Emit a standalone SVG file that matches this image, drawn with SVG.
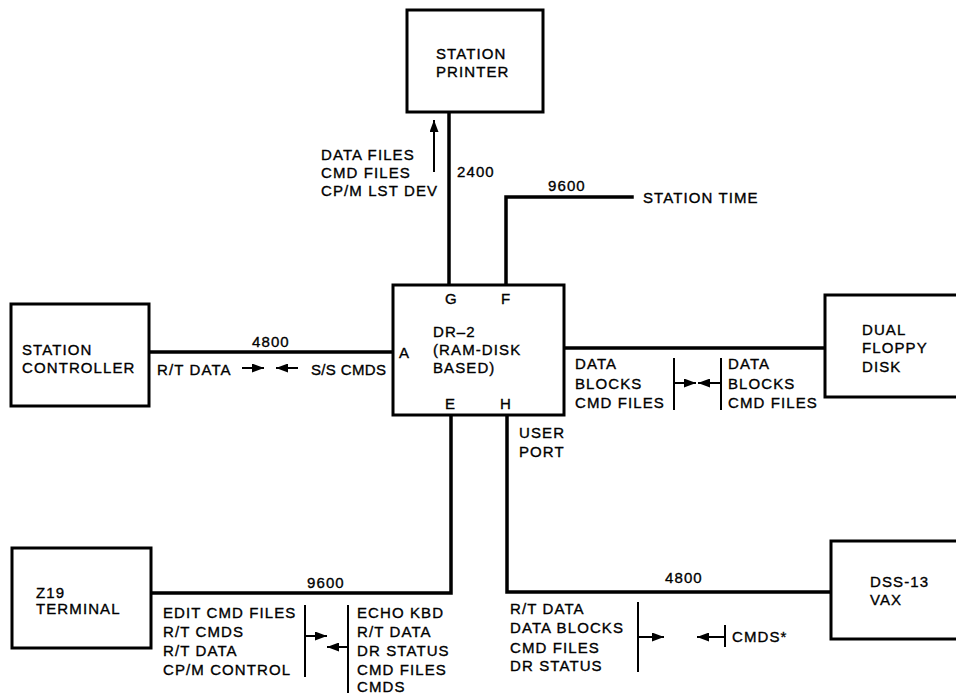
<svg xmlns="http://www.w3.org/2000/svg" width="956" height="694" viewBox="0 0 956 694">
<defs>
<style>
text{font-family:"Liberation Sans",Arial,Helvetica,sans-serif;font-size:15px;letter-spacing:1.1px;fill:#000;stroke:#000;stroke-width:0.35px}
.box{fill:#fff;stroke:#000;stroke-width:3}
.wire{fill:none;stroke:#000;stroke-width:3.5;stroke-linejoin:miter;stroke-linecap:square}
.bar{fill:none;stroke:#000;stroke-width:2}
.arr{fill:none;stroke:#000;stroke-width:2;marker-end:url(#ah)}
</style>
<marker id="ah" markerUnits="userSpaceOnUse" viewBox="0 0 12 9" refX="12" refY="4.5" markerWidth="12" markerHeight="9" orient="auto">
<path d="M0,0 L12,4.5 L0,9 Z" fill="#000"/>
</marker>
</defs>
<rect width="956" height="694" fill="#fff"/>

<g id="connectors">
<path class="wire" d="M449,112 V285"/>
<path class="wire" d="M506,285 V197 H632"/>
<path class="wire" d="M149,352 H393"/>
<path class="wire" d="M564,348 H825"/>
<path class="wire" d="M451,415 V593 H151"/>
<path class="wire" d="M507,415 V592 H830"/>
<!-- label arrows -->
<path class="arr" d="M434,172 V120"/>
<path class="arr" d="M242,368 H264"/>
<path class="arr" d="M298,368 H276"/>
<path class="bar" d="M674,358 V410"/>
<path class="arr" d="M674,383 H696"/>
<path class="bar" d="M721,358 V410"/>
<path class="arr" d="M721,383 H698"/>
<path class="bar" d="M305,605 V677"/>
<path class="arr" d="M305,636 H327"/>
<path class="bar" d="M348,605 V693"/>
<path class="arr" d="M348,647 H327"/>
<path class="bar" d="M638,602 V672"/>
<path class="arr" d="M638,637 H664"/>
<path class="bar" d="M725,625 V647"/>
<path class="arr" d="M725,637 H697"/>
</g>

<g id="station-printer">
<rect class="box" x="407" y="10" width="136" height="102"/>
<text x="436" y="59">STATION</text>
<text x="436" y="77">PRINTER</text>
</g>

<g id="dr2">
<rect class="box" x="393" y="285" width="171" height="130"/>
<text x="445" y="304">G</text>
<text x="501" y="304">F</text>
<text x="399" y="358">A</text>
<text x="433" y="337">DR–2</text>
<text x="433" y="355">(RAM-DISK</text>
<text x="433" y="373">BASED)</text>
<text x="445" y="409">E</text>
<text x="500" y="409">H</text>
</g>

<g id="station-controller">
<rect class="box" x="11" y="304" width="138" height="102"/>
<text x="22" y="355">STATION</text>
<text x="22" y="373">CONTROLLER</text>
</g>

<g id="dual-floppy">
<rect class="box" x="825" y="295" width="140" height="102"/>
<text x="862" y="335">DUAL</text>
<text x="862" y="353">FLOPPY</text>
<text x="862" y="372">DISK</text>
</g>

<g id="z19-terminal">
<rect class="box" x="12" y="548" width="139" height="100"/>
<text x="36" y="598">Z19</text>
<text x="36" y="614">TERMINAL</text>
</g>

<g id="dss13-vax">
<rect class="box" x="831" y="541" width="140" height="98"/>
<text x="870" y="587">DSS-13</text>
<text x="870" y="605">VAX</text>
</g>

<g id="station-time">
<text x="643" y="203">STATION TIME</text>
</g>

<g id="labels">
<text x="321" y="160">DATA FILES</text>
<text x="321" y="178">CMD FILES</text>
<text x="321" y="196">CP/M LST DEV</text>
<text x="457" y="177">2400</text>
<text x="548" y="191">9600</text>
<text x="252" y="347">4800</text>
<text x="157" y="375">R/T DATA</text>
<text x="311" y="375" textLength="76" lengthAdjust="spacing">S/S CMDS</text>
<text x="575" y="369">DATA</text>
<text x="575" y="389">BLOCKS</text>
<text x="575" y="408">CMD FILES</text>
<text x="728" y="369">DATA</text>
<text x="728" y="389">BLOCKS</text>
<text x="728" y="408">CMD FILES</text>
<text x="519" y="438">USER</text>
<text x="519" y="457">PORT</text>
<text x="307" y="588">9600</text>
<text x="163" y="618">EDIT CMD FILES</text>
<text x="163" y="637">R/T CMDS</text>
<text x="163" y="656">R/T DATA</text>
<text x="163" y="675">CP/M CONTROL</text>
<text x="357" y="618">ECHO KBD</text>
<text x="357" y="637">R/T DATA</text>
<text x="357" y="656">DR STATUS</text>
<text x="357" y="675">CMD FILES</text>
<text x="357" y="692">CMDS</text>
<text x="665" y="583">4800</text>
<text x="510" y="614">R/T DATA</text>
<text x="510" y="633">DATA BLOCKS</text>
<text x="510" y="653">CMD FILES</text>
<text x="510" y="671">DR STATUS</text>
<text x="732" y="642">CMDS*</text>
</g>
</svg>
